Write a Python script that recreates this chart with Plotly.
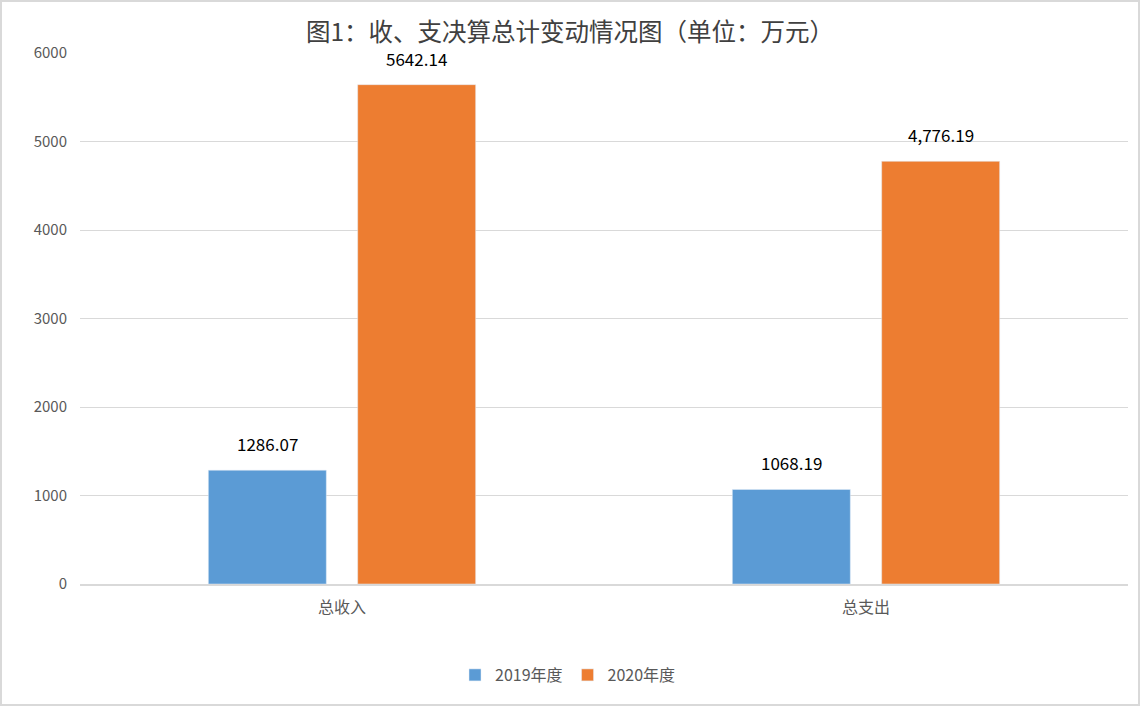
import plotly.graph_objects as go

categories = ['总收入', '总支出']
values_2019 = [1286.07, 1068.19]
values_2020 = [5642.14, 4776.19]
labels_2019 = ['1286.07', '1068.19']
labels_2020 = ['5642.14', '4,776.19']
series_names = ['2019年度', '2020年度']

W, H = 1140, 706
ml, mr, mt, mb = 80, 12, 53, 122
font = 'Noto Sans CJK SC, Microsoft YaHei, sans-serif'
bargap = 0.43

fig = go.Figure()
fig.add_trace(go.Bar(x=categories, y=values_2019, name=series_names[0],
                     marker_color='#5B9BD5'))
fig.add_trace(go.Bar(x=categories, y=values_2020, name=series_names[1],
                     marker_color='#ED7D31'))

# data labels sit well above each bar, like the original
off = (1 - bargap) / 4
for i, cat in enumerate(categories):
    fig.add_annotation(x=i - off, y=values_2019[i], text=labels_2019[i], showarrow=False,
                       yanchor='bottom', yshift=12, font=dict(size=17, color='#000000'))
    fig.add_annotation(x=i + off, y=values_2020[i], text=labels_2020[i], showarrow=False,
                       yanchor='bottom', yshift=12, font=dict(size=17, color='#000000'))

pw = W - ml - mr
ph = H - mt - mb
fig.add_shape(type='rect', xref='paper', yref='paper',
              x0=-(ml - 1) / pw, x1=1 + (mr - 1) / pw,
              y0=-(mb - 1) / ph, y1=1 + (mt - 1) / ph,
              line=dict(color='#D9D9D9', width=2), layer='below')

fig.update_layout(
    width=W, height=H,
    margin=dict(l=ml, r=mr, t=mt, b=mb),
    paper_bgcolor='white', plot_bgcolor='white',
    font=dict(family=font, color='#595959', size=15),
    title=dict(text='图1：收、支决算总计变动情况图（单位：万元）', x=0.5, xanchor='center',
               y=1 - 32 / H, yanchor='middle',
               font=dict(size=24.5, color='#404040', family=font)),
    barmode='group', bargap=bargap, bargroupgap=0.21,
    showlegend=True,
    legend=dict(orientation='h', x=0.5 - 36 / pw, xanchor='center', y=-(675 - 584) / ph,
                yanchor='middle', font=dict(size=16, color='#595959'), itemwidth=30,
                traceorder='normal'),
    xaxis=dict(showline=True, linecolor='#D9D9D9', linewidth=1.5, ticks='',
               tickfont=dict(size=16, color='#595959'), ticklabelstandoff=8),
    yaxis=dict(range=[0, 6000], dtick=1000, showgrid=True, gridcolor='#D9D9D9',
               gridwidth=1.2, zeroline=False, ticks='', tickformat='d',
               tickfont=dict(size=15, color='#595959'), ticklabelstandoff=12),
)

fig.write_html('out.html', config={'displayModeBar': False},
               post_script="document.body.style.margin='0';")
